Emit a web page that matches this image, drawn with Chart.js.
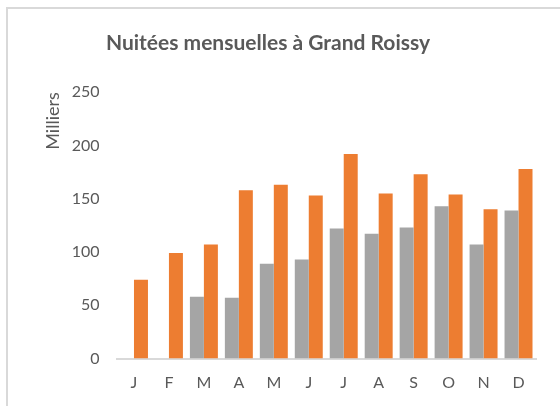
<!DOCTYPE html>
<html>
<head>
<meta charset="utf-8">
<title>Nuitées mensuelles à Grand Roissy</title>
<script src="https://cdn.jsdelivr.net/npm/chart.js@4.4.1/dist/chart.umd.min.js"></script>
<style>
  body { margin: 0; background: #fff; }
  .wrap { position: relative; width: 560px; height: 406px; overflow: hidden; }
  .frame { position: absolute; left: 6px; top: 7px; width: 700px; height: 600px;
           border-left: 2px solid #d9d9d9; border-top: 2px solid #d9d9d9; }
  canvas { position: absolute; left: 0; top: 0; }
</style>
</head>
<body>
<div class="wrap">
  <div class="frame"></div>
  <canvas id="chart" width="560" height="406"></canvas>
</div>
<script>
const months = ['J', 'F', 'M', 'A', 'M', 'J', 'J', 'A', 'S', 'O', 'N', 'D']
// milliers de nuitées
const nuitees_gris = [null, null, 58, 57, 89, 93, 122, 117, 123, 143, 107, 139]
const nuitees_orange = [74, 99, 107, 158, 163, 153, 192, 155, 173, 154, 140, 178]
const y_ticks = [0, 50, 100, 150, 200, 250]

const text_color = '#595959'
const font_family = 'Lato, Calibri, sans-serif'

const config = {
  type: 'bar',
  data: {
    labels: months,
    datasets: [
      {
        label: 'Série 1',
        data: nuitees_gris,
        backgroundColor: '#a5a5a5',
        borderWidth: 0,
      },
      {
        label: 'Série 2',
        data: nuitees_orange,
        backgroundColor: '#ed7d31',
        borderWidth: 0,
      }
    ]
  },
  options: {
    responsive: false,
    animation: false,
    layout: { padding: { left: 0, right: 24, top: 0, bottom: 13 } },
    datasets: { bar: { categoryPercentage: 0.8, barPercentage: 1 } },
    plugins: {
      legend: { display: false },
      tooltip: { enabled: false },
      title: {
        display: true,
        text: 'Nuitées mensuelles à Grand Roissy',
        color: text_color,
        font: { family: font_family, size: 21, weight: 'bold' },
        padding: { top: 31, bottom: 36 }
      }
    },
    scales: {
      x: {
        afterFit: (scale) => { scale.height = 34.5 },
        grid: { display: false, drawTicks: false },
        border: { display: true, color: '#d9d9d9', width: 2 },
        ticks: { color: text_color, font: { family: font_family, size: 16 }, padding: 15 }
      },
      y: {
        min: y_ticks[0],
        max: y_ticks[y_ticks.length - 1],
        afterFit: (scale) => { scale.width = 116.5 },
        afterBuildTicks: (scale) => { scale.ticks = y_ticks.map(v => ({ value: v })) },
        grid: { display: false, drawTicks: false },
        border: { display: false },
        ticks: { color: text_color, font: { family: font_family, size: 16 }, padding: 17 },
        title: {
          display: true,
          text: 'Milliers',
          align: 'end',
          color: text_color,
          font: { family: font_family, size: 18 },
          padding: { top: 42, bottom: 0 }
        }
      }
    }
  }
}

const ctx = document.getElementById('chart').getContext('2d')
const myChart = new Chart(ctx, config)
</script>
</body>
</html>
